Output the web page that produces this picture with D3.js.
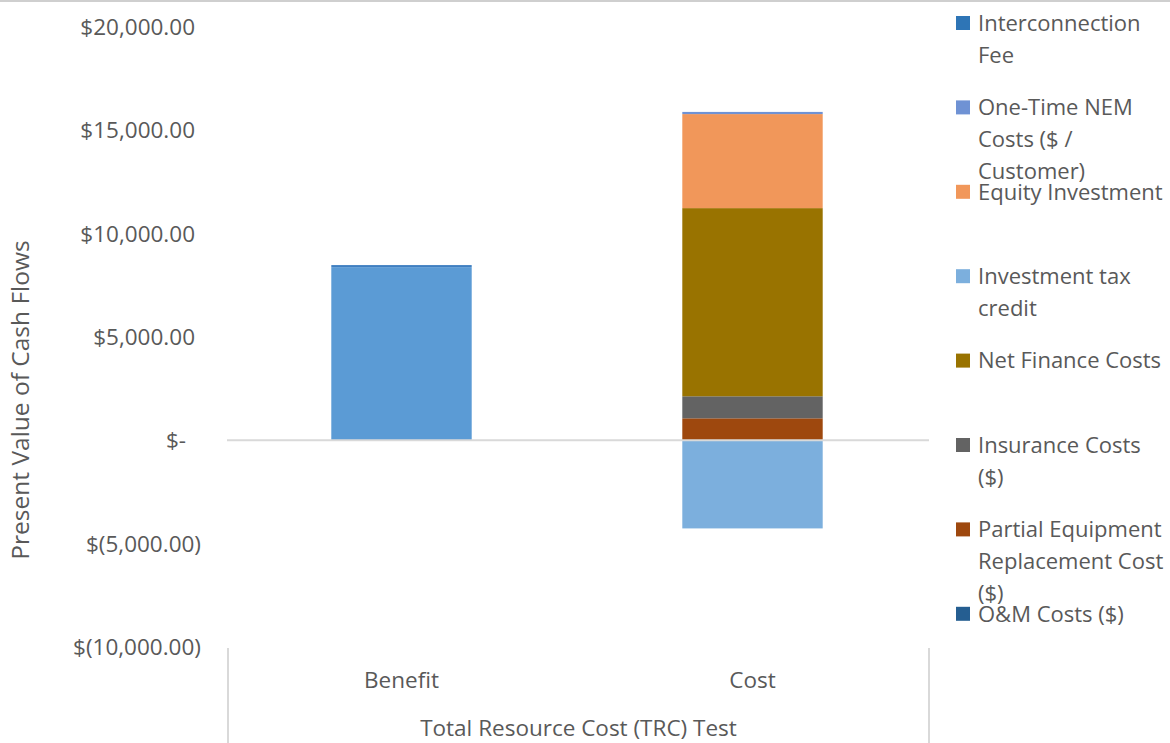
<!DOCTYPE html>
<html>
<head>
<meta charset="utf-8">
<script src="https://cdn.jsdelivr.net/npm/d3@7"></script>
<style>
  html, body { margin: 0; padding: 0; background: #fff; }
  svg text { font-family: "Open Sans", "Noto Sans", sans-serif; fill: #595959; }
</style>
</head>
<body>
<div id="chart"></div>
<script>
// Danh mục (trục X hai cấp)
const categories = ["Benefit", "Cost"];
const groupLabel = "Total Resource Cost (TRC) Test";

// Chuỗi dữ liệu – thứ tự chồng từ dưới lên
const seriesNames = [
  "O&M Costs ($)",
  "Partial Equipment Replacement Cost ($)",
  "Insurance Costs ($)",
  "Net Finance Costs",
  "Investment tax credit",
  "Equity Investment",
  "One-Time NEM Costs ($ / Customer)",
  "Interconnection Fee",
  "Benefit Total",
  "Benefit Adder"
];
// giá trị cho [Benefit, Cost]
const omCosts        = [0, 0];
const partialEquip   = [0, 1065];
const insuranceCosts = [0, 1066];
const netFinance     = [0, 9105];
const investTaxCred  = [0, -4262];
const equityInvest   = [0, 4550];
const oneTimeNEM     = [0, 105];
const interconnFee   = [0, 0];
const benefitTotal   = [8380, 0];
const benefitAdder   = [100, 0];

const seriesValues = [omCosts, partialEquip, insuranceCosts, netFinance, investTaxCred,
  equityInvest, oneTimeNEM, interconnFee, benefitTotal, benefitAdder];
const seriesColors = ["#255E91", "#9E480E", "#636363", "#997300", "#7CAFDD",
  "#F1975A", "#6F92D4", "#2E75B6", "#5B9BD5", "#3F7FC1"];

// Chú giải (chữ xuống dòng như bản gốc)
const legendItems = [
  { name: "Interconnection Fee", lines: ["Interconnection", "Fee"] },
  { name: "One-Time NEM Costs ($ / Customer)", lines: ["One-Time NEM", "Costs ($ /", "Customer)"] },
  { name: "Equity Investment", lines: ["Equity Investment"] },
  { name: "Investment tax credit", lines: ["Investment tax", "credit"] },
  { name: "Net Finance Costs", lines: ["Net Finance Costs"] },
  { name: "Insurance Costs ($)", lines: ["Insurance Costs", "($)"] },
  { name: "Partial Equipment Replacement Cost ($)", lines: ["Partial Equipment", "Replacement Cost", "($)"] },
  { name: "O&M Costs ($)", lines: ["O&M Costs ($)"] }
];

const yTicks = [-10000, -5000, 0, 5000, 10000, 15000, 20000];

const W = 1170, H = 743;
const svg = d3.select("#chart").append("svg")
  .attr("width", W).attr("height", H);

// khung trên
svg.append("line").attr("x1", 0).attr("x2", W).attr("y1", 1).attr("y2", 1)
  .attr("stroke", "#BFBFBF").attr("stroke-width", 1.5);

const x = d3.scaleBand().domain(categories).range([226, 928]).padding(0);
const y = d3.scaleLinear().domain([-10000, 20000]).range([647, 27]);
const color = d3.scaleOrdinal().domain(seriesNames).range(seriesColors);

// dữ liệu chồng (hỗ trợ giá trị âm)
const rows = categories.map((c, i) => {
  const r = { cat: c };
  seriesNames.forEach((s, k) => r[s] = seriesValues[k][i]);
  return r;
});
const stacked = d3.stack().keys(seriesNames).offset(d3.stackOffsetDiverging)(rows);

const barW = x.bandwidth() * 0.4;
svg.append("g").selectAll("g")
  .data(stacked)
  .join("g")
  .attr("fill", d => color(d.key))
  .selectAll("rect")
  .data(d => d.filter(p => p[1] - p[0] !== 0))
  .join("rect")
  .attr("x", d => x(d.data.cat) + (x.bandwidth() - barW) / 2)
  .attr("width", barW)
  .attr("y", d => y(Math.max(d[0], d[1])))
  .attr("height", d => Math.abs(y(d[0]) - y(d[1])));

// trục 0
svg.append("line")
  .attr("x1", 227).attr("x2", 929)
  .attr("y1", y(0)).attr("y2", y(0))
  .attr("stroke", "#D9D9D9").attr("stroke-width", 2);

// trục Y – định dạng kế toán
const fmt = d3.format(",.2f");
const tickText = v => v === 0 ? "$-" : v < 0 ? `$(${fmt(-v)})` : `$${fmt(v)}`;
const tickShift = v => v === 0 ? -15 : v > 0 ? -6 : 0;
svg.append("g").selectAll("text")
  .data(yTicks)
  .join("text")
  .attr("x", d => 201 + tickShift(d))
  .attr("y", d => y(d))
  .attr("dy", "0.35em")
  .attr("text-anchor", "end")
  .style("font-size", "22.5px")
  .text(tickText);

// tiêu đề trục Y
svg.append("text")
  .attr("transform", "translate(29,400) rotate(-90)")
  .attr("text-anchor", "middle")
  .style("font-size", "24.5px")
  .text("Present Value of Cash Flows");

// trục X hai cấp
const axisY0 = y(-10000);
[228, 929].forEach(px => svg.append("line")
  .attr("x1", px).attr("x2", px).attr("y1", axisY0 + 1).attr("y2", H)
  .attr("stroke", "#D9D9D9").attr("stroke-width", 2));

svg.append("g").selectAll("text")
  .data(categories)
  .join("text")
  .attr("x", d => x(d) + x.bandwidth() / 2)
  .attr("y", 688)
  .attr("text-anchor", "middle")
  .style("font-size", "22.5px")
  .text(d => d);

svg.append("text")
  .attr("x", (228 + 929) / 2)
  .attr("y", 736)
  .attr("text-anchor", "middle")
  .style("font-size", "22.5px")
  .text(groupLabel);

// chú giải
const lg = svg.append("g").selectAll("g")
  .data(legendItems)
  .join("g")
  .attr("transform", (d, i) => `translate(956,${23 + i * 84.4})`);
lg.append("rect")
  .attr("x", 0).attr("y", -7).attr("width", 14).attr("height", 14)
  .attr("fill", d => color(d.name));
lg.each(function (d) {
  const t = d3.select(this).append("text")
    .attr("x", 22).attr("y", 0)
    .style("font-size", "22px");
  d.lines.forEach((ln, j) => t.append("tspan")
    .attr("x", 22).attr("y", j * 32).attr("dy", "0.35em").text(ln));
});
</script>
</body>
</html>
